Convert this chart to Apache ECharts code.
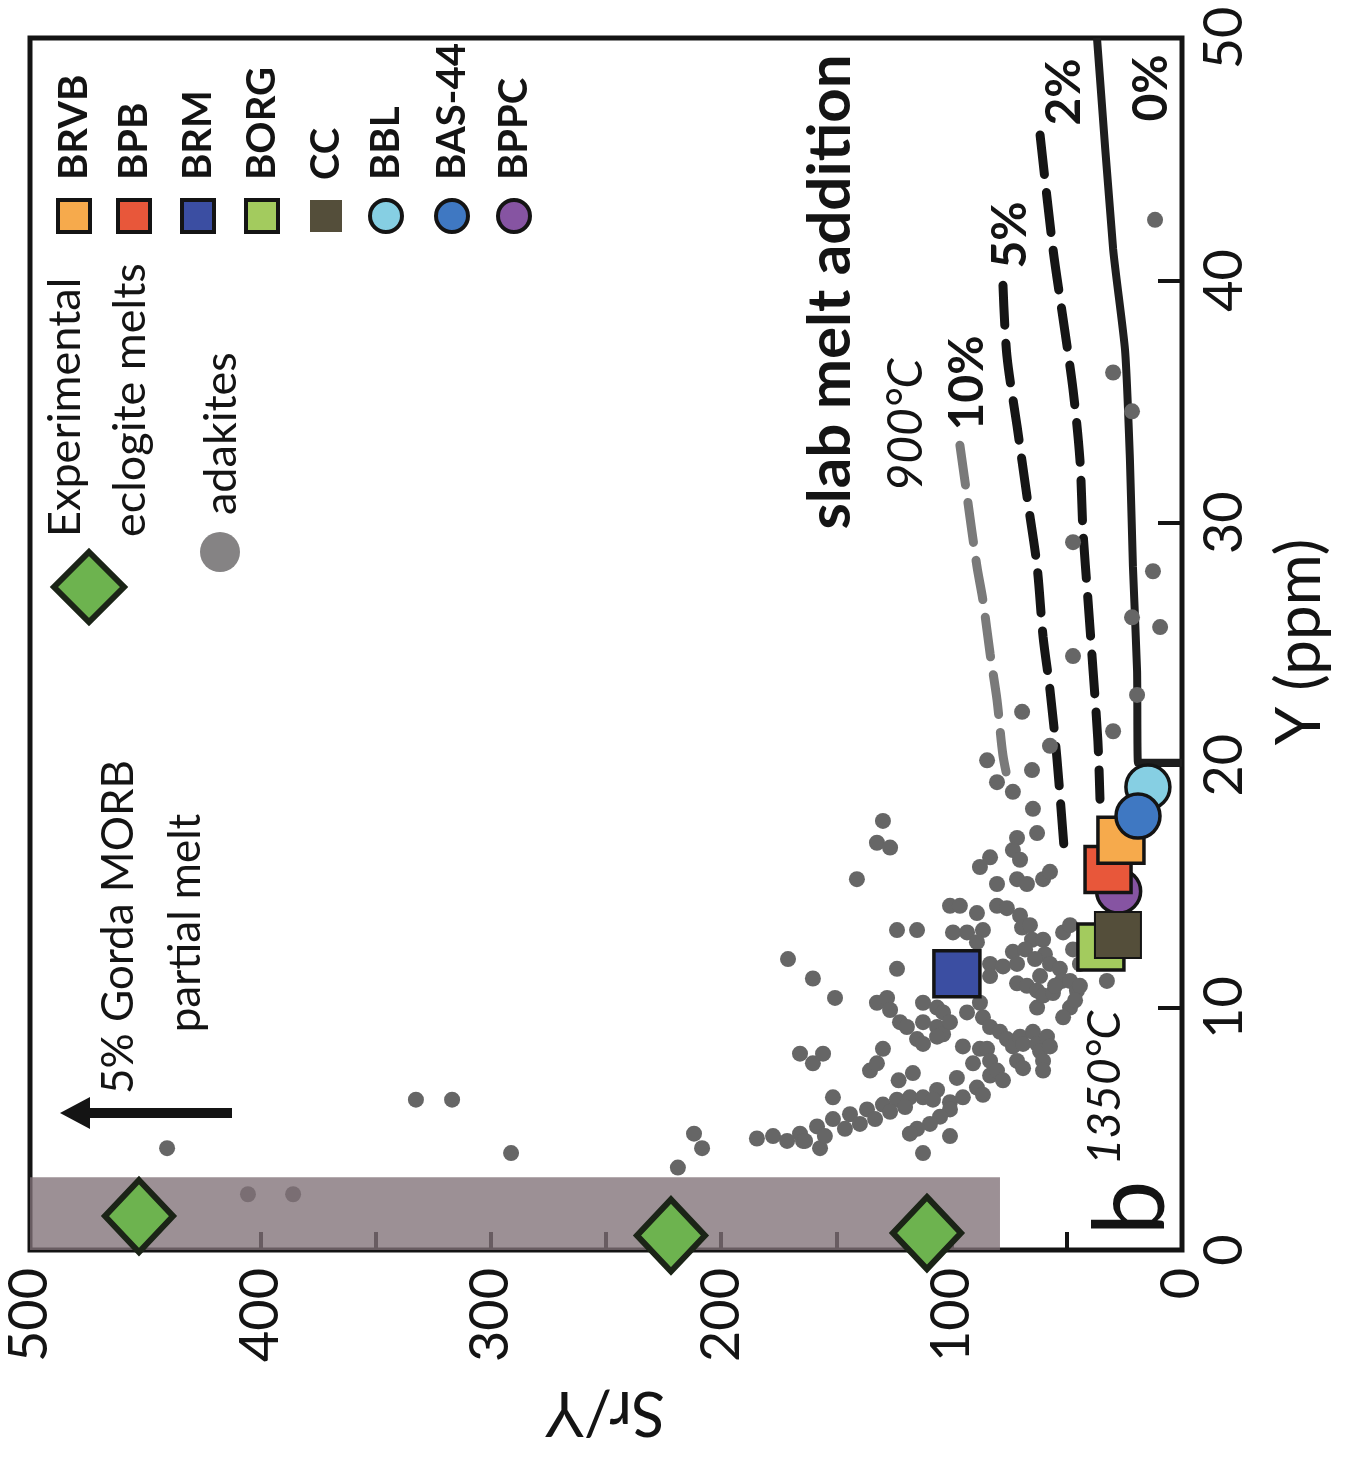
<!DOCTYPE html>
<html><head><meta charset="utf-8">
<script src="https://cdn.jsdelivr.net/npm/echarts@6/dist/echarts.min.js"></script>
<style>html,body{margin:0;padding:0;background:#fff}#c{width:1353px;height:1461px}</style>
</head><body><div id="c"></div><script>
// ---------- DATA (pairs are [Sr/Y, Y ppm]) ----------
const adakites = [[11.7,42.5],[29.9,36.2],[21.7,34.6],[47.3,29.2],[12.6,28.0],[21.7,26.1],[9.5,25.7],[19.5,22.9],[47.3,24.5],[69.4,22.2],[29.9,21.4],[57.3,20.8],[84.6,20.2],[65.1,19.8],[80.3,19.3],[73.4,18.9],[64.7,18.2],[129.8,17.7],[132.4,16.8],[126.7,16.6],[141.1,15.3],[71.6,17.0],[62.9,17.2],[73.4,16.5],[70.3,16.1],[83.3,16.2],[87.7,15.8],[80.3,15.1],[71.6,15.3],[67.3,15.1],[60.3,15.3],[57.3,15.6],[100.7,14.2],[96.4,14.2],[89.0,13.9],[80.3,14.2],[76.0,14.1],[70.3,13.8],[69.4,13.3],[66.0,13.4],[65.1,12.8],[60.3,12.8],[59.5,12.2],[57.3,11.8],[53.0,11.6],[52.1,11.1],[48.6,11.1],[45.6,10.7],[51.6,13.1],[123.7,13.2],[115.0,13.2],[99.4,13.1],[93.3,13.1],[86.4,13.2],[89.0,12.7],[171.0,12.0],[160.2,11.2],[150.6,10.4],[123.7,11.6],[83.3,11.8],[83.3,11.3],[77.7,11.7],[73.4,12.3],[71.6,11.8],[71.6,11.0],[67.3,10.9],[62.9,10.7],[62.9,10.0],[60.3,10.5],[56.0,10.6],[48.6,10.0],[32.6,11.1],[132.4,10.2],[128.0,10.4],[126.7,9.9],[122.4,9.4],[119.4,9.2],[112.4,10.2],[106.3,10.0],[103.7,9.8],[112.4,9.4],[106.3,9.2],[103.7,8.9],[100.7,9.4],[93.3,9.8],[87.7,10.2],[86.4,9.6],[83.3,9.2],[79.0,9.0],[76.0,8.7],[73.4,8.4],[70.3,8.8],[69.0,8.5],[64.7,9.0],[62.9,8.5],[61.6,8.2],[60.3,7.8],[60.3,7.4],[58.6,8.8],[57.3,8.4],[115.0,8.7],[112.4,8.5],[106.3,8.8],[95.1,8.4],[90.7,7.7],[87.7,8.3],[84.6,8.3],[83.3,7.8],[83.3,7.2],[80.3,7.4],[77.7,7.0],[71.6,7.8],[69.0,7.5],[129.8,8.3],[165.8,8.1],[160.2,7.7],[155.8,8.1],[135.4,7.4],[132.4,7.7],[116.8,7.3],[106.3,6.6],[97.7,7.1],[89.0,6.7],[86.4,6.4],[151.5,6.3],[165.8,4.8],[158.4,5.1],[151.5,5.4],[144.1,5.6],[136.7,5.8],[129.8,6.0],[123.7,6.2],[118.1,6.3],[112.4,6.3],[108.1,6.2],[100.7,6.1],[95.1,6.3],[100.7,5.8],[105.0,5.5],[109.4,5.2],[115.0,5.0],[118.1,4.8],[184.5,4.6],[177.5,4.7],[171.4,4.5],[157.1,4.2],[100.7,4.7],[112.4,4.0],[123.0,7.0],[211.8,4.8],[208.3,4.2],[218.8,3.4],[164.5,4.5],[440.5,4.2],[332.5,6.2],[316.8,6.2],[291.2,4.0],[405.4,2.3],[385.8,2.3],[47.3,12.4],[44.3,11.8],[44.3,10.9],[48.6,13.4],[51.6,9.6],[46.4,10.3],[163.6,4.5],[155.0,4.7],[146.3,5.0],[139.8,5.2],[133.2,5.4],[126.7,5.7],[120.2,5.9],[68.1,12.4],[63.8,12.0],[61.6,11.3],[55.1,10.9]];
const eclogiteMelts = [[452.7,1.4],[221.8,0.6],[110.7,0.7]];
const gordaSrY = [79, 500];
const gordaY = [0, 3.0];
const curve0 = [[36.9,50],[29.9,41.3],[24.7,37.1],[22.6,32.6],[21.3,28.2],[19.5,23.9],[19.1,20.1],[0,20.1]];
const curve2 = [[61.6,46.0],[56.0,41.3],[51.6,38.4],[47.3,35.5],[44.3,32.6],[43.0,29.7],[40.8,26.8],[38.6,23.9],[36.5,21.0],[35.6,18.6]];
const curve5 = [[77.7,39.8],[76.0,36.9],[71.6,34.0],[67.3,31.1],[62.9,28.2],[60.3,25.3],[57.3,23.1],[54.3,20.3],[50.8,16.1]];
const curve10 = [[96.4,33.2],[93.3,31.1],[89.0,28.2],[86.4,26.8],[83.3,24.6],[80.3,22.7],[77.7,20.4],[74.7,19.0]];
// samples, drawn bottom to top in this order
const sampleNames = ['BBL','BPPC','BPB','BRVB','BAS-44','BORG','CC','BRM'];
const sampleSrY   = [14.8, 27.5, 32.1, 26.5, 19.1, 35.2, 27.8, 97.7];
const sampleY     = [19.1, 14.8, 15.7, 16.9, 17.9, 12.5, 13.0, 11.4];
const sampleShape = ['circle','circle','rect','rect','circle','rect','rect','rect'];
const sampleColor = ['#86cfe3','#8654a2','#e8573a','#f6aa4c','#3f78c2','#a3cb5e','#544e3a','#3b4ea2'];
const legendNames = ['BRVB','BPB','BRM','BORG','CC','BBL','BAS-44','BPPC'];
const srYRange = [0, 500];
const yRange = [0, 50];

const FONT = 'Lato, "Open Sans", sans-serif';
const INK = '#141414';

function rtext(str, x, y, size, o) {
  o = o || {};
  return {type:'text', x:x, y:y, rotation:(o.rot!==undefined?o.rot:Math.PI/2), z:100,
    style:{text:str, fontSize:size, fontFamily:FONT, fontWeight:o.bold?'bold':'normal',
      fontStyle:o.italic?'italic':'normal', fill:o.color||INK,
      align:o.align||'center', verticalAlign:'middle', textAlign:o.align||'center', textVerticalAlign:'middle'}};
}

const legendX = [74,134,198,262,326,386,452,514];
const graphics = [];
graphics.push({type:'polygon', z:100, shape:{points:[[89,552],[124,587],[89,622],[54,587]]}, style:{fill:'#6db34f', stroke:'#1b2417', lineWidth:6}});
graphics.push(rtext('Experimental', 65, 537, 45, {align:'left'}));
graphics.push(rtext('eclogite melts', 130, 537, 45, {align:'left'}));
graphics.push({type:'circle', z:100, shape:{cx:220, cy:552, r:20}, style:{fill:'#858384'}});
graphics.push(rtext('adakites', 221, 515, 45, {align:'left'}));
legendNames.forEach((n, i) => {
  const idx = sampleNames.indexOf(n);
  const col = sampleColor[idx];
  const x = legendX[i], y = 216;
  if (sampleShape[idx] === 'rect') {
    graphics.push({type:'rect', z:100, shape:{x:x-16, y:y-16, width:32, height:32}, style:{fill:col, stroke:INK, lineWidth:n==='CC'?0:4}});
  } else {
    graphics.push({type:'circle', z:100, shape:{cx:x, cy:y, r:16}, style:{fill:col, stroke:INK, lineWidth:4}});
  }
  graphics.push(rtext(n, x, 180, 40, {align:'left', bold:true}));
});
graphics.push(rtext('5% Gorda MORB', 119, 927, 44));
graphics.push(rtext('partial melt', 186, 923, 44));
graphics.push({type:'line', z:100, shape:{x1:232, y1:1113, x2:84, y2:1113}, style:{stroke:INK, lineWidth:10}});
graphics.push({type:'polygon', z:100, shape:{points:[[60,1113],[90,1097],[90,1129]]}, style:{fill:INK}});
graphics.push(rtext('slab melt addition', 831, 292, 60, {bold:true}));
graphics.push(rtext('900°C', 907, 425, 48, {italic:true}));
graphics.push(rtext('10%', 968, 383, 48, {bold:true}));
graphics.push(rtext('5%', 1011, 235, 48, {bold:true}));
graphics.push(rtext('2%', 1065, 92, 48, {bold:true}));
graphics.push(rtext('0%', 1152, 88, 48, {bold:true}));
graphics.push(rtext('1350°C', 1105, 1088, 46, {italic:true}));
graphics.push(rtext('b', 1132, 1208, 98));
graphics.push(rtext('Y (ppm)', 1300, 642, 62));
graphics.push(rtext('Sr/Y', 605, 1412, 62, {rot:Math.PI}));

const series = [];
function curve(data, color) {
  return {type:'line', data:data, z:2, symbol:'none', smooth:0.3, silent:true,
    lineStyle:{color:color, width:9, type:[40,18], cap:'round', opacity:1}};
}
series.push({type:'line', data:curve0, z:2, symbol:'none', smooth:0.2, silent:true, lineStyle:{color:'#1e1e1e', width:8, opacity:1}});
series.push(curve(curve2, '#151515'));
series.push(curve(curve5, '#151515'));
series.push(curve(curve10, '#7a7a7a'));
series.push({type:'scatter', name:'adakites', data:adakites, z:3, symbol:'circle', symbolSize:16, itemStyle:{color:'#666666', opacity:1}});
series.push({type:'custom', name:'Gorda', z:4, silent:true,
  data:[[gordaSrY[0], gordaSrY[1], gordaY[0], gordaY[1]]],
  encode:{x:[0,1], y:[2,3]},
  renderItem:(params, api) => {
    const p1 = api.coord([api.value(0), api.value(2)]);
    const p2 = api.coord([api.value(1), api.value(3)]);
    return {type:'rect', shape:{x:Math.min(p1[0],p2[0]), y:Math.min(p1[1],p2[1]), width:Math.abs(p2[0]-p1[0]), height:Math.abs(p2[1]-p1[1])},
      style:{fill:'rgba(128,113,119,0.78)'}};
  }});
series.push({type:'scatter', name:'Experimental eclogite melts', data:eclogiteMelts, z:5, symbol:'diamond', symbolSize:[68,72],
  itemStyle:{color:'#6db34f', borderColor:'#1b2417', borderWidth:6, opacity:1}});
sampleNames.forEach((n, i) => {
  series.push({type:'scatter', name:n, data:[[sampleSrY[i], sampleY[i]]], z:6+i,
    symbol:sampleShape[i], symbolSize:sampleShape[i]==='rect'?46:44,
    itemStyle:{color:sampleColor[i], borderColor:INK, borderWidth:n==='CC'?2:3.5, opacity:1}});
});

const chart = echarts.init(document.getElementById('c'), null, {renderer:'canvas'});
chart.setOption({
  animation:false,
  backgroundColor:'#ffffff',
  grid:{left:30, right:171, top:38, bottom:211, show:true, borderColor:INK, borderWidth:5, backgroundColor:'transparent'},
  xAxis:{type:'value', min:srYRange[0], max:srYRange[1], interval:100, inverse:true, position:'bottom',
    axisLine:{show:false}, splitLine:{show:false},
    axisTick:{show:true, inside:true, length:18, lineStyle:{color:INK, width:4}},
    minorTick:{show:true, splitNumber:2, length:18, lineStyle:{color:INK, width:4}},
    axisLabel:{rotate:90, fontSize:54, fontFamily:FONT, color:INK, margin:18}},
  yAxis:{type:'value', min:yRange[0], max:yRange[1], interval:10, position:'right',
    axisLine:{show:false}, splitLine:{show:false},
    axisTick:{show:true, inside:true, length:24, lineStyle:{color:INK, width:4}},
    axisLabel:{rotate:90, fontSize:54, fontFamily:FONT, color:INK, margin:16}},
  graphic:graphics,
  series:series
});
</script></body></html>
